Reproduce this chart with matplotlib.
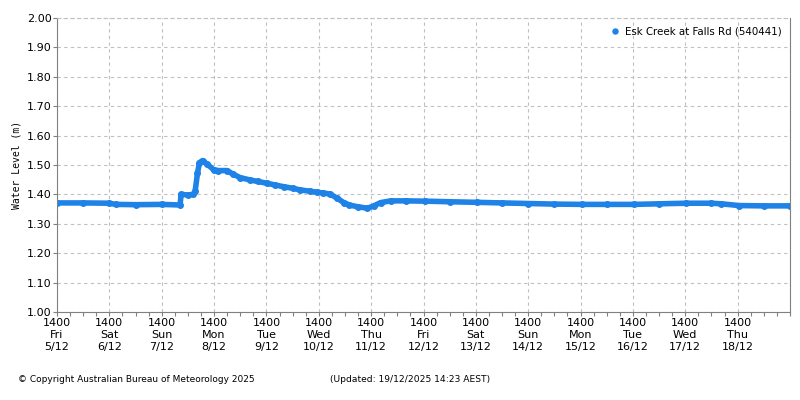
import pandas as pd
import matplotlib.pyplot as plt

# Esk Creek at Falls Rd water level readings (hours after Fri 5/12 14:00)
hours = [0, 12, 24, 27, 36, 48, 56.4, 56.9, 60, 62.4, 63.3, 64.4, 65.3, 66.7,
         68.8, 71.8, 74, 78, 80.9, 84, 88.6, 92, 96.2, 100, 104, 108, 111.6,
         116, 119.3, 122, 125.3, 128.4, 131.5, 134, 137.8, 142.3, 145.2, 148.3,
         153, 160, 168.5, 180, 192.5, 204, 216, 228, 240.7, 252, 264.5, 276,
         288.5, 300, 304.6, 312.7, 324, 336]
levels = [1.371, 1.371, 1.370, 1.366, 1.365, 1.366, 1.364, 1.400, 1.398, 1.400,
          1.410, 1.472, 1.508, 1.515, 1.503, 1.484, 1.481, 1.481, 1.468, 1.457,
          1.449, 1.444, 1.438, 1.432, 1.426, 1.421, 1.415, 1.411, 1.407, 1.405,
          1.401, 1.387, 1.372, 1.364, 1.358, 1.353, 1.361, 1.372, 1.378, 1.378,
          1.377, 1.375, 1.373, 1.371, 1.369, 1.367, 1.366, 1.366, 1.366, 1.368,
          1.370, 1.370, 1.368, 1.362, 1.361, 1.361]

start = pd.Timestamp('2025-12-05 14:00')
end = pd.Timestamp('2025-12-19 14:00')
times = [start + pd.Timedelta(hours=h) for h in hours]

blue = '#1E82E6'
grey = '#808080'

fig = plt.figure(figsize=(8, 4), dpi=100)
ax = fig.add_axes([0.07125, 0.22, 0.91625, 0.735])

ax.plot(times, levels, '-o', color=blue, lw=4, ms=4, label='Esk Creek at Falls Rd (540441)')

ax.set_xlim(start, end)
ax.set_ylim(1.0, 2.0)
ax.set_yticks([1 + i * 0.1 for i in range(11)])
ax.set_yticklabels([f'{1 + i * 0.1:.2f}' for i in range(11)], fontsize=8)

# labelled day ticks at 1400, last one (right edge) left blank
major = pd.date_range(start, end, freq='D')
labels = [d.strftime('1400\n%a\n') + f'{d.day}/{d.month}' for d in major]
labels[-1] = ''
ax.set_xticks(major)
ax.set_xticklabels(labels, fontsize=8, linespacing=1.25)
ax.set_xticks(pd.date_range(start, end, freq='6h'), minor=True)

ax.grid(True, color='#c0c0c0', linestyle=(0, (3, 3)), linewidth=0.8)
ax.tick_params(axis='both', colors=grey, labelcolor='black', length=3, width=0.8, pad=1)
ax.tick_params(axis='x', which='minor', length=3, width=0.8, colors=grey)

for side in ['left', 'bottom', 'right']:
    ax.spines[side].set_color(grey)
ax.spines['top'].set_color('#c0c0c0')
ax.spines['top'].set_linestyle((0, (3, 3)))

ax.set_ylabel('Water Level (m)', fontsize=7, family='DejaVu Sans Mono', labelpad=4)

ax.legend(loc='upper right', frameon=False, fontsize=7.4, handlelength=0.6,
          handletextpad=0.7, borderaxespad=0.4, markerscale=0.9)
for h in ax.get_legend().legend_handles:
    h.set_linestyle('none')

fig.text(18 / 800, 1 - 380 / 400, '\u00a9 Copyright Australian Bureau of Meteorology 2025',
         fontsize=6.5, va='center')
fig.text(330 / 800, 1 - 380 / 400, '(Updated: 19/12/2025 14:23 AEST)',
         fontsize=6.6, va='center')

fig.savefig('out.png', dpi=100)
